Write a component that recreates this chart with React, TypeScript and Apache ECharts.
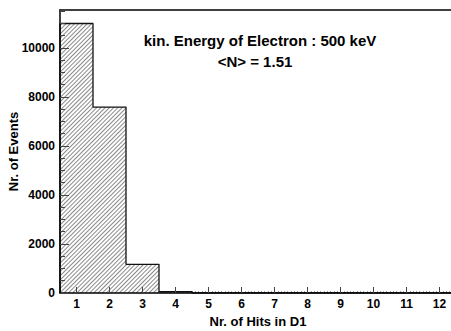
import React, { useEffect, useRef } from "react";
import * as echarts from "echarts";

// Histogram: number of hits in detector D1
const hitBins = ["1", "2", "3", "4", "5", "6", "7", "8", "9", "10", "11", "12"];
const eventCounts = [11000, 7590, 1170, 50, 0, 0, 0, 0, 0, 0, 0, 0];
const yTickValues = [0, 2000, 4000, 6000, 8000, 10000];
const titleLine = "kin. Energy of Electron : 500 keV";
const meanLine = "<N> = 1.51";

const FONT = "'Liberation Sans', Arial, Helvetica, sans-serif";

// Step outline around the histogram bins (edges at n ± 0.5)
function outlinePoints(counts: number[]): number[][] {
  const pts: number[][] = [[0.5, 0]];
  counts.forEach((v, i) => {
    pts.push([i + 0.5, v]);
    pts.push([i + 1.5, v]);
  });
  pts.push([counts.length + 0.5, 0]);
  return pts;
}

export default function App() {
  const ref = useRef<HTMLDivElement>(null);

  useEffect(() => {
    if (!ref.current) return;
    const chart = echarts.init(ref.current, null, { renderer: "svg" });
    chart.setOption({
      animation: false,
      backgroundColor: "#ffffff",
      textStyle: { fontFamily: FONT },
      grid: { left: 60, top: 10, right: -5, bottom: 38, outerBoundsMode: "none", containLabel: false },
      xAxis: [
        {
          type: "category",
          data: hitBins,
          boundaryGap: true,
          position: "bottom",
          name: "Nr. of Hits in D1",
          nameLocation: "middle",
          nameGap: 22,
          nameMoveOverlap: false,
          nameTextStyle: { fontFamily: FONT, fontWeight: "bold", fontSize: 13, color: "#000" },
          axisLine: { show: true, lineStyle: { color: "#000", width: 1.5 } },
          axisTick: {
            show: true,
            inside: true,
            alignWithLabel: true,
            length: 6,
            lineStyle: { color: "#444", width: 1 },
          },
          axisLabel: {
            fontFamily: FONT,
            fontWeight: "bold",
            fontSize: 12,
            color: "#000",
            margin: 5,
          },
          splitLine: { show: false },
          z: 5,
        },
        {
          type: "value",
          min: 0.5,
          max: 12.5,
          interval: 0.1,
          position: "bottom",
          axisLine: { show: false },
          axisTick: { show: true, inside: true, length: 1.5, lineStyle: { color: "#444", width: 1 } },
          axisLabel: { show: false },
          splitLine: { show: false },
        },
        {
          type: "value",
          min: 0.5,
          max: 12.5,
          position: "top",
          axisLine: { show: true, lineStyle: { color: "#000", width: 1.5 } },
          axisTick: { show: false },
          axisLabel: { show: false },
          splitLine: { show: false },
        },
      ],
      yAxis: {
        type: "value",
        min: 0,
        max: 11550,
        interval: 2000,
        name: "Nr. of Events",
        nameLocation: "middle",
        nameGap: 40,
        nameMoveOverlap: false,
        nameTextStyle: { fontFamily: FONT, fontWeight: "bold", fontSize: 13, color: "#000" },
        axisLine: { show: true, lineStyle: { color: "#000", width: 1.5 } },
        axisTick: { show: true, inside: true, length: 9, lineStyle: { color: "#444", width: 1 } },
        minorTick: { show: true, splitNumber: 4, length: 5, lineStyle: { color: "#444", width: 1 } },
        axisLabel: {
          fontFamily: FONT,
          fontWeight: "bold",
          fontSize: 12,
          color: "#000",
          margin: 5,
          formatter: (v: number) => (yTickValues.includes(v) ? String(v) : ""),
        },
        splitLine: { show: false },
        z: 5,
      },
      series: [
        {
          type: "bar",
          xAxisIndex: 0,
          data: eventCounts,
          barCategoryGap: "0%",
          barGap: "0%",
          itemStyle: {
            color: "#ffffff",
            decal: {
              symbol: "rect",
              symbolSize: 1,
              color: "#8a8a8a",
              backgroundColor: "#ffffff",
              dashArrayX: [1, 0],
              dashArrayY: [1, 1.5],
              rotation: -Math.PI / 4,
            },
          },
          silent: true,
        },
        {
          type: "line",
          xAxisIndex: 1,
          data: outlinePoints(eventCounts),
          showSymbol: false,
          lineStyle: { color: "#111", width: 1.3 },
          z: 4,
          silent: true,
        },
      ],
      graphic: [
        {
          type: "text",
          x: 260,
          y: 40,
          style: {
            text: titleLine,
            fontFamily: FONT,
            fontWeight: "bold",
            fontSize: 15,
            fill: "#000",
            align: "center",
            verticalAlign: "middle",
          },
        },
        {
          type: "text",
          x: 255,
          y: 61,
          style: {
            text: meanLine,
            fontFamily: FONT,
            fontWeight: "bold",
            fontSize: 15,
            fill: "#000",
            align: "center",
            verticalAlign: "middle",
          },
        },
      ],
    });
    return () => chart.dispose();
  }, []);

  return (
    <div
      ref={ref}
      style={{ position: "absolute", left: 0, top: 0, width: 451, height: 331 }}
    />
  );
}
